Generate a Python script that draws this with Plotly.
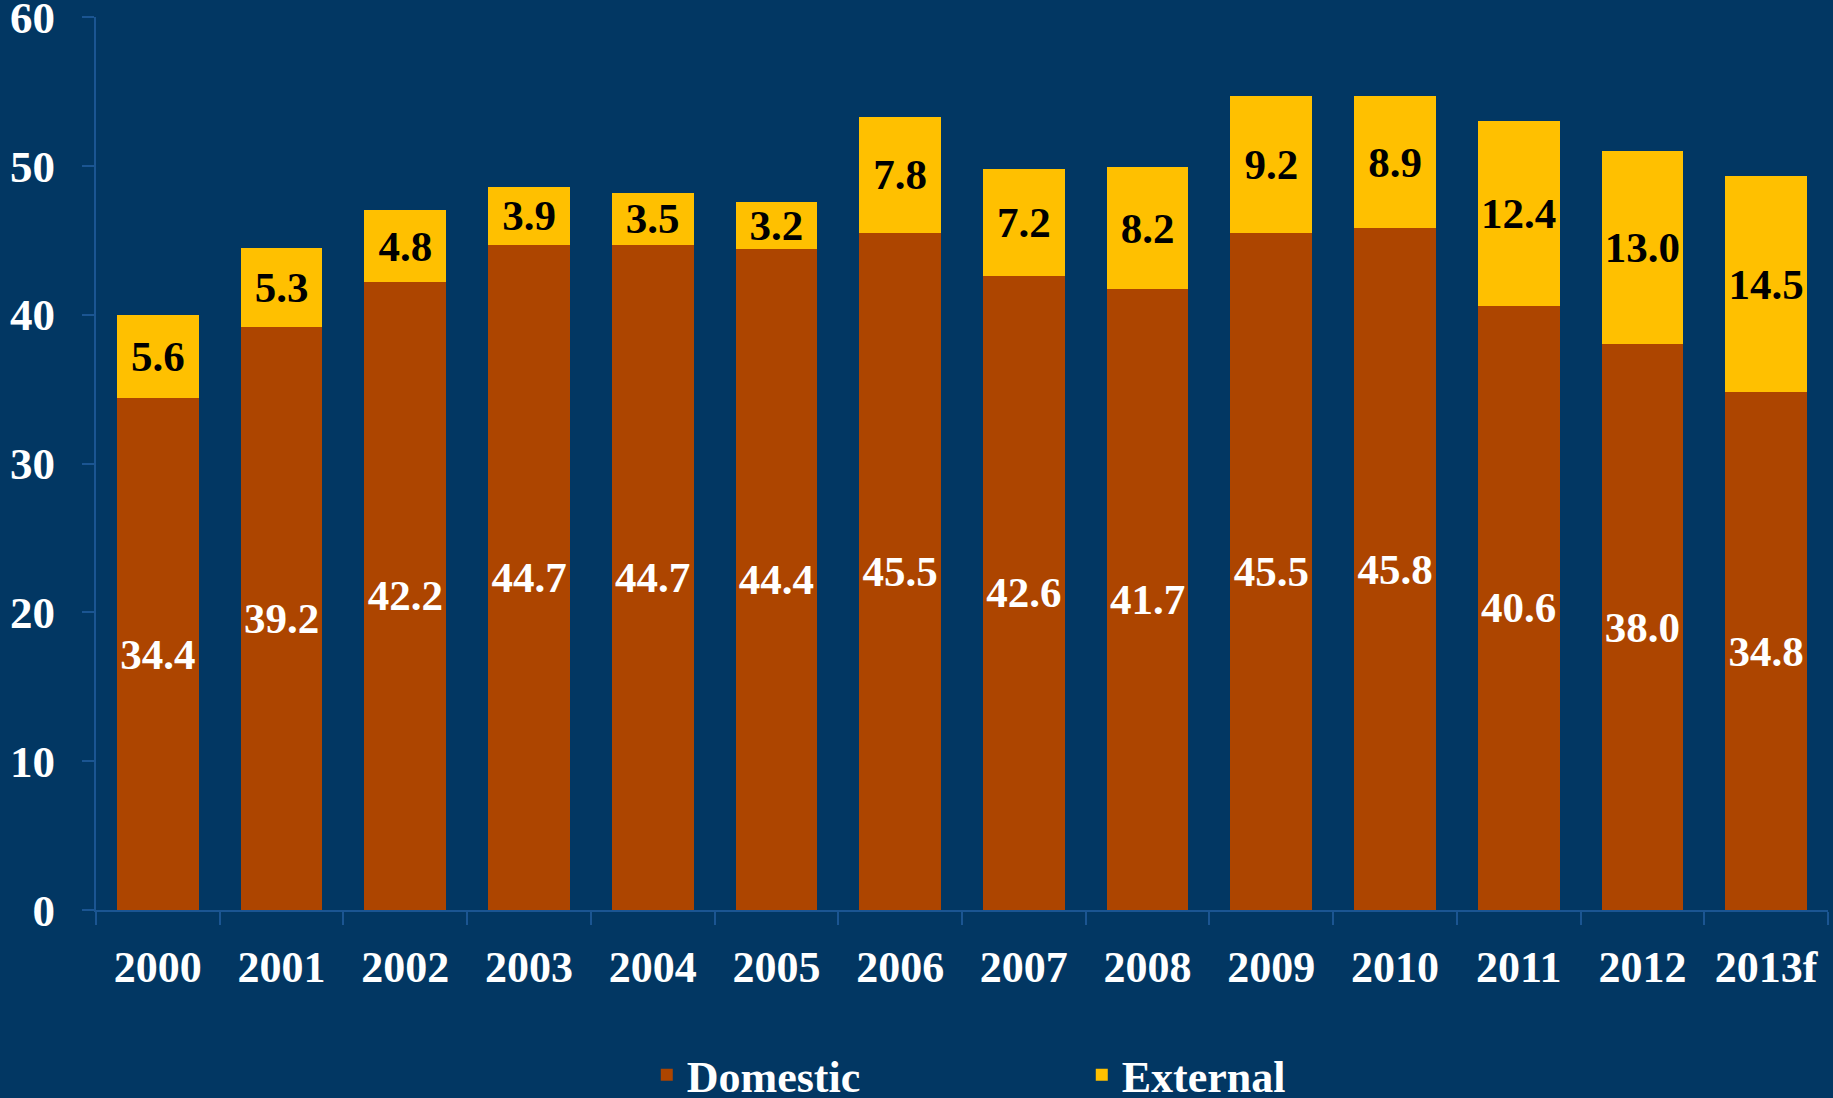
import plotly.graph_objects as go

years = ["2000", "2001", "2002", "2003", "2004", "2005", "2006", "2007",
         "2008", "2009", "2010", "2011", "2012", "2013f"]
domestic = [34.4, 39.2, 42.2, 44.7, 44.7, 44.4, 45.5, 42.6, 41.7, 45.5, 45.8, 40.6, 38.0, 34.8]
external = [5.6, 5.3, 4.8, 3.9, 3.5, 3.2, 7.8, 7.2, 8.2, 9.2, 8.9, 12.4, 13.0, 14.5]
y_ticks = [0, 10, 20, 30, 40, 50, 60]

BG = "#023763"
AXIS = "#1b5592"
FONT = "Liberation Serif, Times New Roman, serif"

fig = go.Figure()
fig.add_trace(go.Bar(
    x=years, y=domestic, name="Domestic",
    marker=dict(color="#AD4500", line=dict(width=0)),
    text=[f"{v:.1f}" for v in domestic], textposition="inside",
    insidetextanchor="middle",
    textfont=dict(family=FONT, size=43, color="white"),
))
fig.add_trace(go.Bar(
    x=years, y=external, name="External",
    marker=dict(color="#FFC000", line=dict(width=0)),
    text=[f"{v:.1f}" for v in external], textposition="inside",
    insidetextanchor="middle",
    textfont=dict(family=FONT, size=43, color="black"),
))

fig.update_layout(
    barmode="stack",
    bargap=0.34,
    width=1833, height=1098,
    paper_bgcolor=BG, plot_bgcolor=BG,
    margin=dict(l=96, r=5, t=17, b=188, autoexpand=False),
    font=dict(family=FONT, size=43, color="white", weight="bold"),
    uniformtext=dict(minsize=43, mode="show"),
    showlegend=True,
    legend=dict(
        orientation="h", x=0.318, xanchor="left", y=-0.185, yanchor="middle",
        font=dict(family=FONT, size=44, color="white", weight="bold"),
        entrywidth=390, entrywidthmode="pixels",
        bgcolor="rgba(0,0,0,0)", traceorder="normal",
    ),
    xaxis=dict(
        type="category", showline=True, linecolor=AXIS, linewidth=2,
        ticks="outside", tickson="boundaries", ticklen=13, tickcolor=AXIS, tickwidth=2,
        showgrid=False, zeroline=False,
        tickfont=dict(family=FONT, size=44, color="white", weight="bold"),
        ticklabelstandoff=17,
    ),
    yaxis=dict(
        range=[0, 60], tickvals=y_ticks, showline=True, linecolor=AXIS, linewidth=2,
        ticks="outside", ticklen=12, tickcolor=AXIS, tickwidth=2,
        showgrid=False, zeroline=False, ticklabeloverflow="allow",
        tickfont=dict(family=FONT, size=45, color="white", weight="bold"),
        ticklabelstandoff=18,
    ),
)

fig.write_html("out.html")
